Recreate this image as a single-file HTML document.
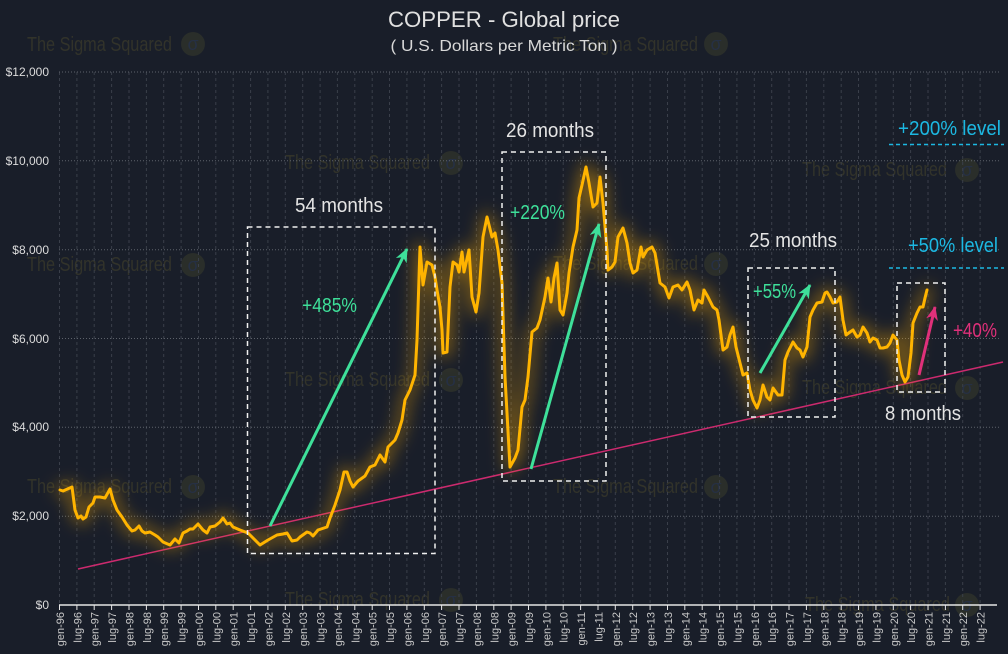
<!DOCTYPE html>
<html><head><meta charset="utf-8">
<style>
html,body{margin:0;padding:0;background:#191e29;}
svg{display:block;}
text{font-family:"Liberation Sans",sans-serif;}
</style></head>
<body>
<svg width="1008" height="654" viewBox="0 0 1008 654" xmlns="http://www.w3.org/2000/svg">
<defs>
<filter id="glow" x="-10%" y="-10%" width="120%" height="120%">
<feGaussianBlur in="SourceGraphic" stdDeviation="8"/>
</filter>
<marker id="ag" viewBox="0 0 14 12" refX="13" refY="6" markerWidth="14" markerHeight="12" markerUnits="userSpaceOnUse" orient="auto">
<path d="M0,0 L14,6 L0,12 L4,6 Z" fill="#3ee09a"/>
</marker>
<marker id="am" viewBox="0 0 14 12" refX="13" refY="6" markerWidth="14" markerHeight="12" markerUnits="userSpaceOnUse" orient="auto">
<path d="M0,0 L14,6 L0,12 L4,6 Z" fill="#e0307a"/>
</marker>
</defs>
<rect width="1008" height="654" fill="#191e29"/>

<!-- watermarks -->
<g fill="#32332a" font-size="20">
<text x="27" y="51" textLength="145" lengthAdjust="spacingAndGlyphs">The Sigma Squared</text>
<text x="27" y="271" textLength="145" lengthAdjust="spacingAndGlyphs">The Sigma Squared</text>
<text x="27" y="493" textLength="145" lengthAdjust="spacingAndGlyphs">The Sigma Squared</text>
<text x="553" y="51" textLength="145" lengthAdjust="spacingAndGlyphs">The Sigma Squared</text>
<text x="553" y="270" textLength="145" lengthAdjust="spacingAndGlyphs">The Sigma Squared</text>
<text x="553" y="493" textLength="145" lengthAdjust="spacingAndGlyphs">The Sigma Squared</text>
<text x="285" y="169" textLength="145" lengthAdjust="spacingAndGlyphs">The Sigma Squared</text>
<text x="285" y="386" textLength="145" lengthAdjust="spacingAndGlyphs">The Sigma Squared</text>
<text x="285" y="606" textLength="145" lengthAdjust="spacingAndGlyphs">The Sigma Squared</text>
<text x="802" y="176" textLength="145" lengthAdjust="spacingAndGlyphs">The Sigma Squared</text>
<text x="802" y="394" textLength="145" lengthAdjust="spacingAndGlyphs">The Sigma Squared</text>
<text x="805" y="611" textLength="145" lengthAdjust="spacingAndGlyphs">The Sigma Squared</text>
</g>
<g fill="#2a2e2a">
<circle cx="193" cy="44" r="12"/><circle cx="193" cy="265" r="12"/><circle cx="193" cy="487" r="12"/>
<circle cx="716" cy="44" r="12"/><circle cx="716" cy="264" r="12"/><circle cx="716" cy="487" r="12"/>
<circle cx="451" cy="163" r="12"/><circle cx="451" cy="380" r="12"/><circle cx="451" cy="600" r="12"/>
<circle cx="967" cy="170" r="12"/><circle cx="967" cy="388" r="12"/><circle cx="967" cy="605" r="12"/>
</g>
<g fill="#263044" font-size="18" text-anchor="middle">
<text x="193" y="50">σ</text><text x="193" y="271">σ</text><text x="193" y="493">σ</text>
<text x="716" y="50">σ</text><text x="716" y="270">σ</text><text x="716" y="493">σ</text>
<text x="451" y="169">σ</text><text x="451" y="386">σ</text><text x="451" y="606">σ</text>
<text x="967" y="176">σ</text><text x="967" y="394">σ</text><text x="967" y="611">σ</text>
</g>

<!-- vertical grid -->
<path stroke="#3a3f4a" stroke-width="1" stroke-dasharray="3,3" fill="none" d="
M76.9 72V605 M94.2 72V605 M111.6 72V605 M129 72V605 M146.4 72V605 M163.7 72V605 M181.1 72V605 M198.5 72V605 M215.8 72V605 M233.2 72V605 M250.6 72V605 M267.9 72V605 M285.3 72V605 M302.7 72V605 M320.1 72V605 M337.4 72V605 M354.8 72V605 M372.2 72V605 M389.5 72V605 M406.9 72V605 M424.3 72V605 M441.6 72V605 M459 72V605 M476.4 72V605 M493.8 72V605 M511.1 72V605 M528.5 72V605 M545.9 72V605 M563.2 72V605 M580.6 72V605 M598 72V605 M615.3 72V605 M632.7 72V605 M650.1 72V605 M667.5 72V605 M684.8 72V605 M702.2 72V605 M719.6 72V605 M736.9 72V605 M754.3 72V605 M771.7 72V605 M789 72V605 M806.4 72V605 M823.8 72V605 M841.2 72V605 M858.5 72V605 M875.9 72V605 M893.3 72V605 M910.6 72V605 M928 72V605 M945.4 72V605 M962.7 72V605 M980.1 72V605 M59.5 72V605"/>
<!-- horizontal grid -->
<path stroke="#5d626b" stroke-width="1" stroke-dasharray="1,2" fill="none" d="M59 72H1000 M59 160.8H1000 M59 249.7H1000 M59 338.5H1000 M59 427.3H1000 M59 516.2H1000"/>

<!-- y labels -->
<g fill="#dcdcdc" font-size="12" text-anchor="end">
<text x="49" y="76">$12,000</text>
<text x="49" y="165">$10,000</text>
<text x="49" y="254">$8,000</text>
<text x="49" y="343">$6,000</text>
<text x="49" y="431">$4,000</text>
<text x="49" y="520">$2,000</text>
<text x="49" y="609">$0</text>
</g>

<!-- axis -->
<line x1="59" y1="605" x2="997" y2="605" stroke="#e6e6e6" stroke-width="1.5"/>
<path stroke="#e6e6e6" stroke-width="1" fill="none" d="
M59.5 605v5 M76.9 605v5 M94.2 605v5 M111.6 605v5 M129 605v5 M146.4 605v5 M163.7 605v5 M181.1 605v5 M198.5 605v5 M215.8 605v5 M233.2 605v5 M250.6 605v5 M267.9 605v5 M285.3 605v5 M302.7 605v5 M320.1 605v5 M337.4 605v5 M354.8 605v5 M372.2 605v5 M389.5 605v5 M406.9 605v5 M424.3 605v5 M441.6 605v5 M459 605v5 M476.4 605v5 M493.8 605v5 M511.1 605v5 M528.5 605v5 M545.9 605v5 M563.2 605v5 M580.6 605v5 M598 605v5 M615.3 605v5 M632.7 605v5 M650.1 605v5 M667.5 605v5 M684.8 605v5 M702.2 605v5 M719.6 605v5 M736.9 605v5 M754.3 605v5 M771.7 605v5 M789 605v5 M806.4 605v5 M823.8 605v5 M841.2 605v5 M858.5 605v5 M875.9 605v5 M893.3 605v5 M910.6 605v5 M928 605v5 M945.4 605v5 M962.7 605v5 M980.1 605v5"/>

<!-- x labels -->
<g fill="#c9c9c9" font-size="11" text-anchor="end">
<text transform="translate(64,612) rotate(-90)">gen-96</text>
<text transform="translate(81.4,612) rotate(-90)">lug-96</text>
<text transform="translate(98.7,612) rotate(-90)">gen-97</text>
<text transform="translate(116.1,612) rotate(-90)">lug-97</text>
<text transform="translate(133.5,612) rotate(-90)">gen-98</text>
<text transform="translate(150.9,612) rotate(-90)">lug-98</text>
<text transform="translate(168.2,612) rotate(-90)">gen-99</text>
<text transform="translate(185.6,612) rotate(-90)">lug-99</text>
<text transform="translate(203,612) rotate(-90)">gen-00</text>
<text transform="translate(220.3,612) rotate(-90)">lug-00</text>
<text transform="translate(237.7,612) rotate(-90)">gen-01</text>
<text transform="translate(255.1,612) rotate(-90)">lug-01</text>
<text transform="translate(272.4,612) rotate(-90)">gen-02</text>
<text transform="translate(289.8,612) rotate(-90)">lug-02</text>
<text transform="translate(307.2,612) rotate(-90)">gen-03</text>
<text transform="translate(324.6,612) rotate(-90)">lug-03</text>
<text transform="translate(341.9,612) rotate(-90)">gen-04</text>
<text transform="translate(359.3,612) rotate(-90)">lug-04</text>
<text transform="translate(376.7,612) rotate(-90)">gen-05</text>
<text transform="translate(394,612) rotate(-90)">lug-05</text>
<text transform="translate(411.4,612) rotate(-90)">gen-06</text>
<text transform="translate(428.8,612) rotate(-90)">lug-06</text>
<text transform="translate(446.1,612) rotate(-90)">gen-07</text>
<text transform="translate(463.5,612) rotate(-90)">lug-07</text>
<text transform="translate(480.9,612) rotate(-90)">gen-08</text>
<text transform="translate(498.3,612) rotate(-90)">lug-08</text>
<text transform="translate(515.6,612) rotate(-90)">gen-09</text>
<text transform="translate(533,612) rotate(-90)">lug-09</text>
<text transform="translate(550.4,612) rotate(-90)">gen-10</text>
<text transform="translate(567.7,612) rotate(-90)">lug-10</text>
<text transform="translate(585.1,612) rotate(-90)">gen-11</text>
<text transform="translate(602.5,612) rotate(-90)">lug-11</text>
<text transform="translate(619.8,612) rotate(-90)">gen-12</text>
<text transform="translate(637.2,612) rotate(-90)">lug-12</text>
<text transform="translate(654.6,612) rotate(-90)">gen-13</text>
<text transform="translate(672,612) rotate(-90)">lug-13</text>
<text transform="translate(689.3,612) rotate(-90)">gen-14</text>
<text transform="translate(706.7,612) rotate(-90)">lug-14</text>
<text transform="translate(724.1,612) rotate(-90)">gen-15</text>
<text transform="translate(741.4,612) rotate(-90)">lug-15</text>
<text transform="translate(758.8,612) rotate(-90)">gen-16</text>
<text transform="translate(776.2,612) rotate(-90)">lug-16</text>
<text transform="translate(793.5,612) rotate(-90)">gen-17</text>
<text transform="translate(810.9,612) rotate(-90)">lug-17</text>
<text transform="translate(828.3,612) rotate(-90)">gen-18</text>
<text transform="translate(845.7,612) rotate(-90)">lug-18</text>
<text transform="translate(863,612) rotate(-90)">gen-19</text>
<text transform="translate(880.4,612) rotate(-90)">lug-19</text>
<text transform="translate(897.8,612) rotate(-90)">gen-20</text>
<text transform="translate(915.1,612) rotate(-90)">lug-20</text>
<text transform="translate(932.5,612) rotate(-90)">gen-21</text>
<text transform="translate(949.9,612) rotate(-90)">lug-21</text>
<text transform="translate(967.2,612) rotate(-90)">gen-22</text>
<text transform="translate(984.6,612) rotate(-90)">lug-22</text>
</g>

<!-- title -->
<text x="504" y="27" text-anchor="middle" fill="#e0e0e0" font-size="22" textLength="232" lengthAdjust="spacingAndGlyphs">COPPER - Global price</text>
<text x="504" y="51" text-anchor="middle" fill="#d8d8d8" font-size="16" textLength="227" lengthAdjust="spacingAndGlyphs">( U.S. Dollars per Metric Ton )</text>

<!-- trend line -->
<line x1="78" y1="569" x2="1003" y2="362" stroke="#cc2a6e" stroke-width="1.5"/>

<!-- price line -->
<g fill="none" stroke-linejoin="round" stroke-linecap="round">
<polyline filter="url(#glow)" stroke="#ffae00" stroke-opacity="0.42" stroke-width="10" points="60,490 63,491 72,487 75,510 78,518 81,516 83,519 86,517 89,507 93,503 95,497 100,497 105,498 110,489 113,500 117,510 122,517 127,525 132,531 135,530 139,526 142,531 145,533 150,532 155,535 158,537 163,542 170,545 175,539 179,543 183,533 187,531 190,529 193,529 198,524 203,530 207,533 210,527 215,526 220,522 223,518 227,524 230,523 233,527 240,530 248,533 260,545 268,540 277,535 283,534 287,533 292,541 297,540 300,537 307,532 310,533 313,536 318,530 327,527 330,518 335,505 340,490 344,472 347,472 350,481 353,487 358,481 365,476 370,467 375,465 380,455 385,462 388,447 395,440 398,433 402,420 405,400 410,390 415,375 417,340 420,247 423,285 427,262 432,265 435,277 437,290 440,307 442,330 443,353 447,352 450,287 453,262 457,265 459,272 462,252 464,272 469,250 472,297 476,312 479,293 483,237 487,217 492,237 495,233 498,250 502,283 505,377 510,467 515,458 518,450 522,407 525,400 528,377 532,332 537,328 540,320 545,297 548,278 551,302 554,278 557,263 560,310 563,315 567,293 569,273 573,247 577,230 579,198 582,185 586,167 589,183 593,207 597,203 600,177 603,203 607,250 608,270 612,267 615,262 618,237 623,228 627,243 630,263 633,273 637,270 641,247 643,257 647,250 652,247 655,253 660,283 665,287 669,298 673,287 678,285 682,290 687,282 690,290 694,310 698,300 702,303 704,290 708,297 713,307 717,310 719,320 723,350 727,347 730,335 733,327 736,347 740,363 743,375 747,373 750,390 753,400 757,408 760,400 763,385 767,397 770,400 773,388 778,395 782,395 785,360 788,352 793,342 797,348 800,350 803,357 807,347 810,317 813,310 817,303 822,302 825,293 827,292 830,297 833,303 837,302 840,297 843,320 846,335 850,332 853,330 857,337 860,335 863,327 867,333 870,342 873,338 877,340 880,348 883,348 887,347 890,343 893,335 897,340 899,360 902,375 905,382 908,377 911,353 913,323 917,313 920,307 923,307 925,298 927,290"/>
<polyline stroke="#ffb400" stroke-width="3" points="60,490 63,491 72,487 75,510 78,518 81,516 83,519 86,517 89,507 93,503 95,497 100,497 105,498 110,489 113,500 117,510 122,517 127,525 132,531 135,530 139,526 142,531 145,533 150,532 155,535 158,537 163,542 170,545 175,539 179,543 183,533 187,531 190,529 193,529 198,524 203,530 207,533 210,527 215,526 220,522 223,518 227,524 230,523 233,527 240,530 248,533 260,545 268,540 277,535 283,534 287,533 292,541 297,540 300,537 307,532 310,533 313,536 318,530 327,527 330,518 335,505 340,490 344,472 347,472 350,481 353,487 358,481 365,476 370,467 375,465 380,455 385,462 388,447 395,440 398,433 402,420 405,400 410,390 415,375 417,340 420,247 423,285 427,262 432,265 435,277 437,290 440,307 442,330 443,353 447,352 450,287 453,262 457,265 459,272 462,252 464,272 469,250 472,297 476,312 479,293 483,237 487,217 492,237 495,233 498,250 502,283 505,377 510,467 515,458 518,450 522,407 525,400 528,377 532,332 537,328 540,320 545,297 548,278 551,302 554,278 557,263 560,310 563,315 567,293 569,273 573,247 577,230 579,198 582,185 586,167 589,183 593,207 597,203 600,177 603,203 607,250 608,270 612,267 615,262 618,237 623,228 627,243 630,263 633,273 637,270 641,247 643,257 647,250 652,247 655,253 660,283 665,287 669,298 673,287 678,285 682,290 687,282 690,290 694,310 698,300 702,303 704,290 708,297 713,307 717,310 719,320 723,350 727,347 730,335 733,327 736,347 740,363 743,375 747,373 750,390 753,400 757,408 760,400 763,385 767,397 770,400 773,388 778,395 782,395 785,360 788,352 793,342 797,348 800,350 803,357 807,347 810,317 813,310 817,303 822,302 825,293 827,292 830,297 833,303 837,302 840,297 843,320 846,335 850,332 853,330 857,337 860,335 863,327 867,333 870,342 873,338 877,340 880,348 883,348 887,347 890,343 893,335 897,340 899,360 902,375 905,382 908,377 911,353 913,323 917,313 920,307 923,307 925,298 927,290"/>
</g>

<!-- dashed boxes -->
<g fill="none" stroke="#f0f0f0" stroke-width="1.5" stroke-dasharray="5,4">
<rect x="247.5" y="227" width="187.5" height="326.5"/>
<rect x="502" y="152" width="104" height="329"/>
<rect x="748" y="268" width="87" height="149"/>
<rect x="897" y="283" width="48" height="109"/>
</g>

<!-- level lines -->
<g stroke="#1cb8e2" stroke-width="1.5" stroke-dasharray="4,3">
<line x1="889" y1="144.5" x2="1004" y2="144.5"/>
<line x1="889" y1="268" x2="1004" y2="268"/>
</g>

<!-- arrows -->
<g stroke-width="3" fill="none">
<line x1="270" y1="526" x2="407" y2="249" stroke="#3ee09a" marker-end="url(#ag)"/>
<line x1="531" y1="469" x2="599" y2="224" stroke="#3ee09a" marker-end="url(#ag)"/>
<line x1="760" y1="373" x2="810" y2="285" stroke="#3ee09a" marker-end="url(#ag)"/>
<line x1="919" y1="375" x2="935" y2="307" stroke="#e0307a" marker-end="url(#am)"/>
</g>

<!-- annotation text -->
<g fill="#e4e4e4" font-size="20">
<text x="295" y="212" textLength="88" lengthAdjust="spacingAndGlyphs">54 months</text>
<text x="506" y="137" textLength="88" lengthAdjust="spacingAndGlyphs">26 months</text>
<text x="749" y="247" textLength="88" lengthAdjust="spacingAndGlyphs">25 months</text>
<text x="885" y="420" textLength="76" lengthAdjust="spacingAndGlyphs">8 months</text>
</g>
<g fill="#3ee09a" font-size="20">
<text x="302" y="312" textLength="55" lengthAdjust="spacingAndGlyphs">+485%</text>
<text x="510" y="219" textLength="55" lengthAdjust="spacingAndGlyphs">+220%</text>
<text x="753" y="298" textLength="43" lengthAdjust="spacingAndGlyphs">+55%</text>
</g>
<text x="953" y="337" fill="#e0307a" font-size="20" textLength="44" lengthAdjust="spacingAndGlyphs">+40%</text>
<g fill="#1cb8e2" font-size="20">
<text x="898" y="135" textLength="103" lengthAdjust="spacingAndGlyphs">+200% level</text>
<text x="908" y="252" textLength="90" lengthAdjust="spacingAndGlyphs">+50% level</text>
</g>
</svg>
</body></html>
